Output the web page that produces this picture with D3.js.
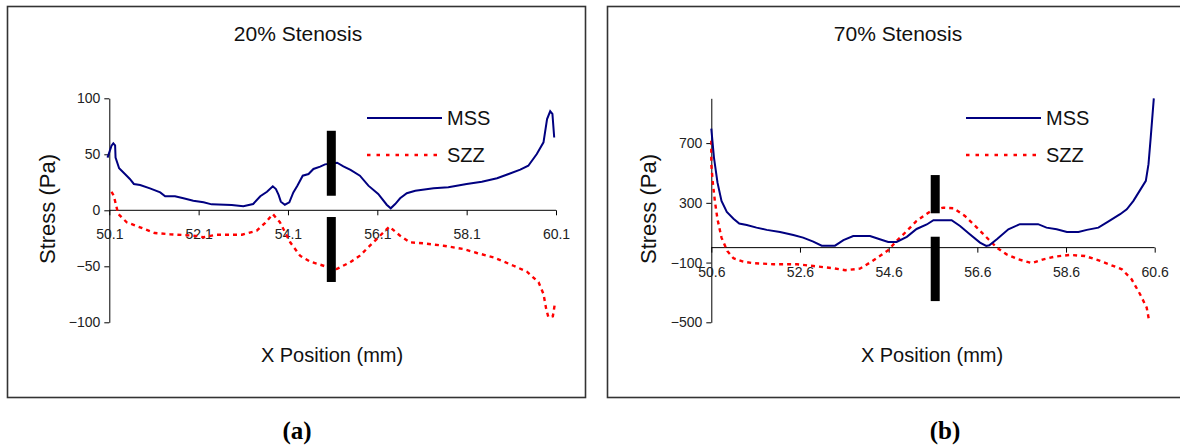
<!DOCTYPE html>
<html>
<head>
<meta charset="utf-8">
<script src="https://cdn.jsdelivr.net/npm/d3@7"></script>
<style>
  body { margin: 0; background: #fff; }
  svg { font-family: "Liberation Sans", Arial, sans-serif; }
</style>
</head>
<body>
<div id="chart"></div>
<script>
// chart text
var titles = ['20% Stenosis', '70% Stenosis'];
var panelLabels = ['(a)', '(b)'];
var seriesNames = ['MSS', 'SZZ'];

// axis ticks
var xTicksA = [50.1, 52.1, 54.1, 56.1, 58.1, 60.1];
var yTicksA = [-100, -50, 0, 50, 100];
var xTicksB = [50.6, 52.6, 54.6, 56.6, 58.6, 60.6];
var yTicksB = [-500, -100, 300, 700];
var yDomainA = [-100, 100];
var yDomainB = [-500, 1000];

// 20% stenosis [x, stress]
var mssA = [[50.06,47],[50.15,57.7],[50.19,59.8],[50.23,58],[50.24,47],[50.32,37.5],[50.45,32.4],[50.56,28],[50.65,23.5],[50.79,22.6],[51.01,19.6],[51.24,16],[51.35,12.5],[51.57,12.5],[51.76,10.7],[51.98,8.6],[52.21,7.1],[52.39,5.3],[52.84,4.7],[53.1,3.6],[53.32,5.6],[53.48,12.5],[53.63,16.6],[53.76,21.4],[53.83,19],[53.89,13.7],[53.94,7.7],[54.03,5],[54.13,7.1],[54.22,16],[54.31,22],[54.43,30.9],[54.56,32.4],[54.67,36.9],[54.82,39],[54.93,41],[55.2,42.5],[55.34,39.3],[55.5,36],[55.71,30.9],[55.9,22],[56.12,14.6],[56.31,5],[56.4,1.8],[56.5,5.6],[56.61,10.7],[56.76,15.2],[56.95,17.5],[57.36,19.6],[57.69,20.5],[58.1,23.5],[58.44,25.5],[58.78,28.6],[59.04,32.4],[59.3,36.3],[59.48,39.8],[59.67,50.3],[59.82,60.7],[59.9,81.5],[59.97,88.4],[60.02,86],[60.06,65]];
var szzA = [[50.15,16.6],[50.2,13],[50.3,-3.3],[50.49,-10.7],[50.79,-15.2],[51.12,-20.3],[51.46,-21.4],[51.98,-22.6],[52.21,-24.1],[52.5,-21.8],[53.07,-21.8],[53.4,-18.2],[53.59,-11.3],[53.76,-3.3],[53.92,-10.7],[54.15,-28.6],[54.37,-40.5],[54.6,-45.9],[54.78,-48],[55,-50.9],[55.19,-52.4],[55.49,-46.4],[55.71,-40.5],[56.01,-28.6],[56.37,-14.6],[56.61,-22.7],[56.83,-28.6],[57.13,-29.5],[57.58,-31.6],[58.03,-34.6],[58.33,-38.1],[58.7,-42],[59.15,-49.5],[59.45,-54.8],[59.71,-64.3],[59.82,-74.7],[59.88,-88],[59.93,-95.5],[60.03,-94.6],[60.08,-82]];

// 70% stenosis [x, stress]
var mssB = [[50.6,797],[50.66,603],[50.74,435],[50.83,313],[50.95,239],[51.1,194],[51.23,161],[51.4,152],[51.62,134],[51.85,119],[52.15,105],[52.45,85],[52.67,67],[52.9,40],[53.09,13],[53.39,13],[53.58,50],[53.8,78],[54.18,78],[54.4,56],[54.59,38],[54.78,38],[55.01,72],[55.23,125],[55.46,155],[55.61,184],[56.02,184],[56.21,145],[56.43,90],[56.66,34],[56.8,11],[56.87,16],[57.04,56],[57.3,123],[57.56,157],[57.97,157],[58.16,134],[58.39,123],[58.62,105],[58.88,105],[59.07,119],[59.33,134],[59.55,174],[59.82,224],[59.97,257],[60.12,313],[60.27,385],[60.4,447],[60.46,559],[60.51,737],[60.58,1000]];
var szzB = [[50.6,715],[50.6,559],[50.63,447],[50.68,313],[50.74,190],[50.83,67],[50.96,-22],[51.1,-71],[51.32,-94],[51.55,-104],[52,-111],[52.53,-111],[52.9,-123],[53.35,-138],[53.62,-151],[53.95,-141],[54.18,-100],[54.4,-56],[54.59,-17],[54.78,45],[55.01,112],[55.23,179],[55.53,241],[55.83,268],[56.06,264],[56.32,212],[56.59,134],[56.85,56],[57.04,0],[57.26,-45],[57.52,-78],[57.83,-104],[58.09,-78],[58.35,-60],[58.69,-49],[59.03,-56],[59.37,-89],[59.86,-145],[60.08,-212],[60.27,-312],[60.42,-402],[60.48,-500]];

// stenosis position markers [x, y0, y1]
var barsA = [[55.07, 13, 71], [55.07, -64, -6]];
var barsB = [[55.65, 230, 486], [55.65, -358, 73]];

var svg = d3.select('#chart').append('svg').attr('width', 1180).attr('height', 448);

var panels = [
	{ box: [7.5, 6.5, 578, 391], left: 109.3, right: 556, top: 98.3, bottom: 322.3,
	  xTicks: xTicksA, yTicks: yTicksA, yDomain: yDomainA, mss: mssA, szz: szzA, bars: barsA,
	  title: titles[0], label: panelLabels[0], titleX: 298, yLabelX: 47, xLabelX: 332, labelX: 297, legendX: 367 },
	{ box: [607.5, 6.5, 590, 391], left: 711.3, right: 1154.7, top: 98.3, bottom: 322.3,
	  xTicks: xTicksB, yTicks: yTicksB, yDomain: yDomainB, mss: mssB, szz: szzB, bars: barsB,
	  title: titles[1], label: panelLabels[1], titleX: 898, yLabelX: 648, xLabelX: 932, labelX: 945, legendX: 966 }
];

panels.forEach(function(p) {
	var g = svg.append('g');

	// outer frame
	g.append('rect')
		.attr('x', p.box[0]).attr('y', p.box[1])
		.attr('width', p.box[2]).attr('height', p.box[3])
		.attr('fill', 'none').attr('stroke', '#333').attr('stroke-width', 1.6);

	var x = d3.scaleLinear().domain([p.xTicks[0], p.xTicks[p.xTicks.length - 1]]).range([p.left, p.right]);
	var y = d3.scaleLinear().domain(p.yDomain).range([p.bottom, p.top]);

	// y axis
	g.append('g')
		.attr('transform', `translate(${p.left},0)`)
		.call(d3.axisLeft(y).tickValues(p.yTicks).tickSize(5).tickSizeOuter(0).tickPadding(4).tickFormat(d3.format('d')))
		.call(a => a.selectAll('path,line').attr('stroke', '#000'))
		.call(a => a.selectAll('text').attr('font-size', '14px').attr('font-family', '"Liberation Sans", Arial, sans-serif').attr('fill', '#222'));

	// x axis at zero
	var xa = g.append('g')
		.attr('transform', `translate(0,${y(0)})`)
		.call(d3.axisBottom(x).tickValues(p.xTicks).tickSize(5).tickSizeOuter(0).tickPadding(14).tickFormat(d3.format('.1f')));
	xa.selectAll('path,line').attr('stroke', '#000');
	xa.selectAll('text').attr('font-size', '14px').attr('font-family', '"Liberation Sans", Arial, sans-serif').attr('fill', '#222');
	xa.select('.domain').attr('d', `M${p.left},0H${p.right}`);

	var line = d3.line().x(d => x(d[0])).y(d => y(d[1]));

	g.append('path').datum(p.szz)
		.attr('d', line)
		.attr('fill', 'none').attr('stroke', '#ff0000').attr('stroke-width', 2.4)
		.attr('stroke-dasharray', '4,4');

	g.append('path').datum(p.mss)
		.attr('d', line)
		.attr('fill', 'none').attr('stroke', '#000080').attr('stroke-width', 2);

	// marker bars
	g.selectAll('.bar').data(p.bars).enter().append('rect')
		.attr('x', d => x(d[0]) - 4.5)
		.attr('y', d => y(d[2]))
		.attr('width', 9)
		.attr('height', d => y(d[1]) - y(d[2]))
		.attr('fill', '#000');

	// title
	g.append('text')
		.attr('x', p.titleX).attr('y', 41)
		.attr('text-anchor', 'middle')
		.attr('font-size', '21px').attr('fill', '#111')
		.text(p.title);

	// axis titles
	g.append('text')
		.attr('transform', `translate(${p.yLabelX},209) rotate(-90)`)
		.attr('text-anchor', 'middle').attr('dominant-baseline', 'central')
		.attr('font-size', '22px').attr('fill', '#111')
		.text('Stress (Pa)');

	g.append('text')
		.attr('x', p.xLabelX).attr('y', 362)
		.attr('text-anchor', 'middle')
		.attr('font-size', '20px').attr('fill', '#111')
		.text('X Position (mm)');

	// legend
	var legY = [118, 155];
	seriesNames.forEach(function(name, i) {
		g.append('line')
			.attr('x1', p.legendX).attr('x2', p.legendX + 75)
			.attr('y1', legY[i]).attr('y2', legY[i])
			.attr('stroke', i === 0 ? '#000080' : '#ff0000')
			.attr('stroke-width', i === 0 ? 2 : 2.6)
			.attr('stroke-dasharray', i === 0 ? null : '3.5,6');
		g.append('text')
			.attr('x', p.legendX + 80).attr('y', legY[i] + 7)
			.attr('font-size', '20px').attr('fill', '#111')
			.text(name);
	});

	// panel label
	g.append('text')
		.attr('x', p.labelX).attr('y', 439)
		.attr('text-anchor', 'middle')
		.attr('font-family', '"Liberation Serif", "Times New Roman", serif')
		.attr('font-weight', 'bold').attr('font-size', '25px')
		.text(p.label);
});
</script>
</body>
</html>
